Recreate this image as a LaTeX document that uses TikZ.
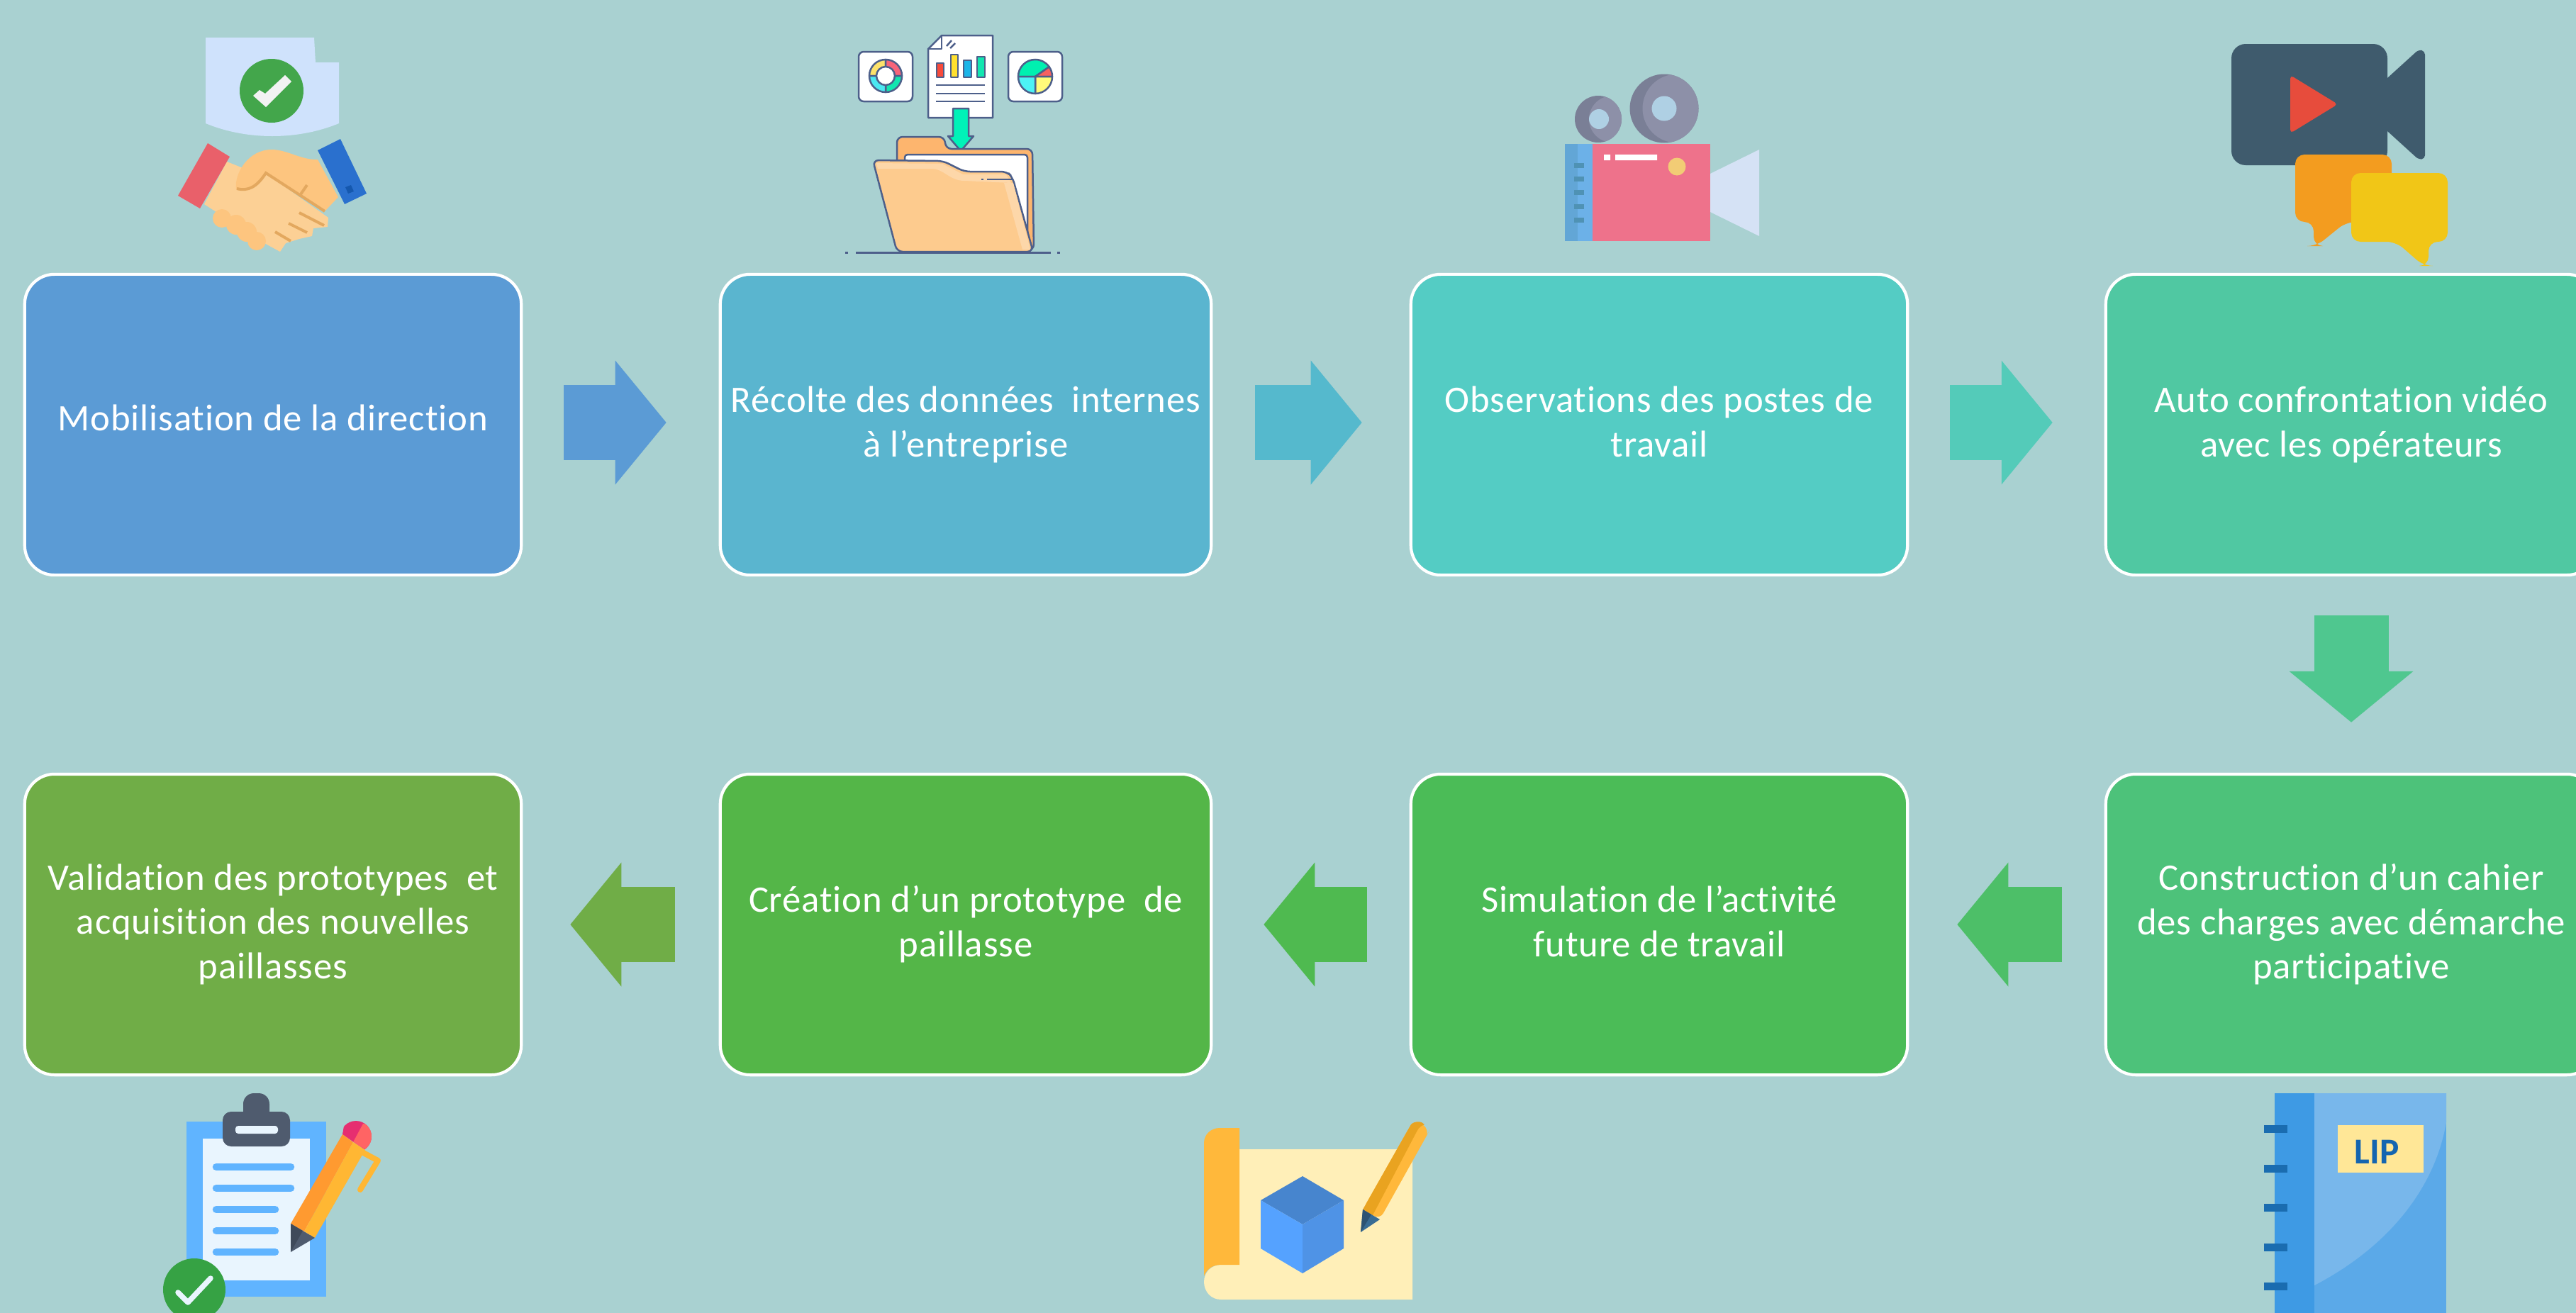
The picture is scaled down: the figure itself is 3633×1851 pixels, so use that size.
\documentclass[tikz,border=0pt]{standalone}
\usepackage{fontspec}
\setmainfont[Ligatures=NoCommon]{Carlito}
\newfontfamily\stepfont[Ligatures=NoCommon,LetterSpace=1.6]{Carlito}
\usepackage{tikz}
\usetikzlibrary{arrows.meta}
\definecolor{bgcol}{HTML}{A9D1D1}
\definecolor{stepa}{HTML}{5B9BD5}
\definecolor{stepb}{HTML}{5AB5CF}
\definecolor{stepc}{HTML}{54CCC4}
\definecolor{stepd}{HTML}{50C8A2}
\definecolor{stepe}{HTML}{4DC27A}
\definecolor{stepf}{HTML}{4BBC57}
\definecolor{stepg}{HTML}{54B648}
\definecolor{steph}{HTML}{70AD47}
\definecolor{arrowb}{HTML}{55B9CD}
\definecolor{arrowc}{HTML}{54CBB9}
\definecolor{arrowd}{HTML}{4FC78F}
\definecolor{arrowe}{HTML}{4DBF68}
\definecolor{arrowf}{HTML}{4FBA50}
\definecolor{inkline}{HTML}{4D5F8A}
\definecolor{skinlight}{HTML}{FCD095}
\definecolor{skindark}{HTML}{FDC57F}
\definecolor{penorange}{HTML}{FFB733}
\definecolor{lipblue}{HTML}{1465B0}
\definecolor{lipyellow}{HTML}{FFE797}
\tikzset{
	hex/.code={\definecolor{hexcol}{HTML}{#1}\pgfkeysalso{color=hexcol}},
	fillhex/.code={\definecolor{fillcol}{HTML}{#1}\pgfkeysalso{fill=fillcol}},
	rowone/.style={transform canvas={yshift=0.03cm}}
}

\begin{document}
\begin{tikzpicture}[x=0.01cm,y=-0.01cm]
	\useasboundingbox (0,0) rectangle (3633,1851);
	\clip (-10,-10) rectangle (3643,1861);
	\fill[bgcol] (-10,-10) rectangle (3643,1861);
	\begin{scope}[every node/.style={draw=white,line width=1.2pt,outer sep=0pt,rounded corners=0.42cm,text=white,align=center,minimum width=7cm,minimum height=4.24cm,font=\stepfont\fontsize{15}{17.8}\selectfont,execute at begin node=\vphantom{Ég},execute at end node=\vphantom{g}}]
		\node[fill=stepa] (mobil) at (385,599) {\raisebox{0.1cm}{Mobilisation de la direction}};
		\node[fill=stepb,minimum width=6.92cm] (recolte) at (1362,599) {Récolte des données~ internes\\à l’entreprise};
		\node[fill=stepc] (observ) at (2340,599) {Observations des postes de\\travail};
		\node[fill=stepd,minimum width=6.92cm] (confront) at (3316,599) {Auto confrontation vidéo\\avec les opérateurs};
		\node[fill=stepe,minimum width=6.92cm] (cahier) at (3316,1304) {Construction d’un cahier\\des charges avec démarche\\participative};
		\node[fill=stepf] (simul) at (2340,1304) {Simulation de l’activité\\future de travail};
		\node[fill=stepg,minimum width=6.92cm] (proto) at (1362,1304) {Création d’un prototype~ de\\paillasse};
		\node[fill=steph] (valid) at (385,1304) {Validation des prototypes~ et\\acquisition des nouvelles\\paillasses};
	\end{scope}
	\begin{scope}[>={Triangle[length=0.72cm,width=1.71cm]},
			every edge/.style={draw,line width=1.05cm}]
		\path [->] (mobil) edge[draw=stepa,rowone,shorten <=0.6cm,shorten >=0.76cm] (recolte);
		\path [->] (recolte) edge[draw=arrowb,rowone,shorten <=0.62cm,shorten >=0.69cm] (observ);
		\path [->] (observ) edge[draw=arrowc,rowone,shorten <=0.6cm,shorten >=0.75cm] (confront);
		\path [->] (confront) edge[draw=arrowd,shorten <=0.57cm,shorten >=0.73cm] (cahier);
		\path [->] (cahier) edge[draw=arrowe,shorten <=0.62cm,shorten >=0.7cm] (simul);
		\path [->] (simul) edge[draw=arrowf,shorten <=0.62cm,shorten >=0.74cm] (proto);
		\path [->] (proto) edge[draw=steph,shorten <=0.64cm,shorten >=0.69cm] (valid);
	\end{scope}
	\begin{scope}
		\fill[hex=CFE2FC] (290,53) -- (443,53) -- (445,88) -- (478,88) -- (478,174) .. controls (420,198) and (348,198) .. (290,174) -- cycle;
		\fill[hex=43A64B] (383,128) circle (45);
		\fill[hex=F2F2F2] (357,135) -- (375,151) -- (411,115) -- (402,106) -- (374,132) -- (366,127) -- cycle;
		\fill[skinlight] (320,228) -- (345,238) -- (373,243) -- (463,307) -- (462,320) -- (442,322) -- (440,333) -- (422,337) -- (403,343) -- (395,355) -- (373,343) -- (288,288) -- cycle;
		\fill[skindark] (313,308) circle (13) (333,317) circle (14) (348,327) circle (14) (362,340) circle (13);
		\fill[skindark] (448,225) -- (477,278) -- (458,298) -- (375,244) .. controls (362,268) and (350,270) .. (333,267) .. controls (330,245) and (350,211) .. (383,211) .. controls (405,211) and (425,226) .. (448,225) -- cycle;
		\fill[hex=E9606A] (293,202) -- (324,221) -- (282,294) -- (251,276) -- cycle;
		\fill[hex=2A70CE] (480,196) -- (517,273) -- (486,288) -- (448,212) -- cycle;
		\fill[hex=1558AE] (487,264) -- (495,261) -- (499,270) -- (491,273) -- cycle;
		\draw[hex=E3A85F,line width=0.04cm] (334,266) .. controls (350,270) and (362,264) .. (375,244) -- (458,298);
		\draw[hex=E3A85F,line width=0.04cm] (433,261) -- (422,277) (422,300) -- (457,318) (407,315) -- (433,328) (388,327) -- (410,340);
	\end{scope}
	\begin{scope}[every path/.style={draw=inkline,line width=0.025cm,line join=round}]
		\path[fill=white,rounded corners=0.07cm] (1211,73) rectangle (1287,143);
		\path[fill=white,rounded corners=0.07cm] (1422,73) rectangle (1498,143);
		\path[fillhex=FDE26B] (1249,107) -- ++(180:0.23cm) arc (180:90:0.23cm) -- cycle;
		\path[fillhex=F7647A] (1249,107) -- ++(90:0.23cm) arc (90:0:0.23cm) -- cycle;
		\path[fillhex=12E6B0] (1249,107) -- ++(0:0.23cm) arc (0:-90:0.23cm) -- cycle;
		\path[fillhex=4BE8F2] (1249,107) -- ++(-90:0.23cm) arc (-90:-180:0.23cm) -- cycle;
		\path[fill=white] (1249,107) circle (13);
		\path[fillhex=00F0B0] (1460,108) -- ++(180:0.24cm) arc (180:35:0.24cm) -- cycle;
		\path[fillhex=F76060] (1460,108) -- ++(35:0.24cm) arc (35:0:0.24cm) -- cycle;
		\path[fillhex=FFFA7A] (1460,108) -- ++(0:0.24cm) arc (0:-90:0.24cm) -- cycle;
		\path[fillhex=4CF2F5] (1460,108) -- ++(-90:0.24cm) arc (-90:-180:0.24cm) -- cycle;
		\path[fill=white] (1328,50) -- (1400,50) -- (1400,166) -- (1309,166) -- (1309,69) -- cycle;
		\path (1309,69) -- (1328,69) -- (1328,50);
		\path[fillhex=F84A3A] (1321,89) rectangle (1331,109);
		\path[fillhex=FFE02E] (1341,77) rectangle (1351,109);
		\path[fillhex=1CB5E8] (1359,85) rectangle (1370,109);
		\path[fillhex=12E6B0] (1378,80) rectangle (1389,109);
		\path (1320,120) -- (1389,120) (1320,132) -- (1389,132) (1320,143) -- (1389,143);
		\path (1335,65) -- (1342,57) (1340,68) -- (1347,61);
		\path[fillhex=00F2B8] (1344,153) -- (1366,153) -- (1366,192) -- (1373,192) -- (1355,213) -- (1337,192) -- (1344,192) -- cycle;
		\path[fillhex=FDB56E,rounded corners=0.08cm] (1265,240) -- (1265,193) -- (1332,193) -- (1334,210) -- (1456,210) -- (1458,353) -- (1300,353) -- cycle;
		\path[fill=white,rounded corners=0.04cm] (1276,240) -- (1276,218) -- (1449,218) -- (1449,347) -- (1300,347) -- cycle;
		\path[line width=0.03cm] (1207,356) -- (1482,356);
		\path[line width=0.03cm] (1192,356) -- (1196,356) (1491,356) -- (1495,356);
		\path[fillhex=FDCB8E,rounded corners=0.08cm] (1231,226) -- (1330,227) -- (1360,242) -- (1420,242) -- (1428,250) -- (1457,355) -- (1265,355) -- cycle;
		\path[draw=none,fillhex=FDD7A9] (1236,230) -- (1329,231) -- (1358,246) -- (1419,246) -- (1426,258) -- (1360,255) .. controls (1340,255) and (1330,238) .. (1315,238) -- (1238,238) -- cycle;
		\path[draw=none,fillhex=FDD7A9] (1416,258) -- (1429,258) -- (1453,352) -- (1442,352) -- cycle;
		\path (1392,253) -- (1428,253) (1384,253) -- (1387,253);
	\end{scope}
	\begin{scope}
		\fill[hex=6CB1E8] (2207,203) rectangle (2246,340);
		\fill[hex=62A6D6] (2207,203) rectangle (2225,340);
		\foreach \dashy in {230,249,268,288,307}
			\fill[hex=4F92B4] (2220,\dashy) rectangle (2234,\dashy+7);
		\fill[hex=EE728B] (2246,203) rectangle (2412,340);
		\fill[white] (2262,218) rectangle (2271,226) (2278,218) rectangle (2337,226);
		\fill[hex=F2CC75] (2365,235) circle (12.5);
		\fill[hex=D5E2F5] (2412,245) -- (2481,211) -- (2481,333) -- (2412,299) -- cycle;
		\fill[hex=7A7F96] (2254,168) circle (33) (2347,153) circle (48.5);
		\begin{scope}
			\clip (2254,168) circle (33);
			\fill[hex=8D90A8] (2274,168) circle (33);
		\end{scope}
		\begin{scope}
			\clip (2347,153) circle (48.5);
			\fill[hex=8D90A8] (2365,153) circle (48.5);
		\end{scope}
		\fill[hex=AFD0E4] (2255,168) circle (14) (2347,153) circle (17.5);
	\end{scope}
	\begin{scope}
		\fill[hex=3F5B6D,rounded corners=0.2cm] (3147,62) rectangle (3367,233);
		\fill[hex=3F5B6D,rounded corners=0.05cm] (3360,117) -- (3367,110) -- (3411,70) -- (3420,72) -- (3420,224) -- (3411,225) -- (3367,185) -- (3360,178) -- cycle;
		\fill[hex=E74C3C,rounded corners=0.05cm] (3230,106) -- (3297,147) -- (3230,188) -- cycle;
		\fill[hex=F39C1F,rounded corners=0.13cm] (3237,218) -- (3373,218) -- (3373,313) -- (3309,313) -- (3267,347) -- (3263,347) -- (3263,313) -- (3237,313) -- cycle;
		\fill[hex=F1C617,rounded corners=0.13cm] (3316,244) -- (3452,244) -- (3452,341) -- (3425,341) -- (3425,375) -- (3418,375) -- (3379,341) -- (3316,341) -- cycle;
	\end{scope}
	\begin{scope}
		\fill[hex=60B4FF] (263,1582) rectangle (460,1829);
		\fill[hex=E9F5FE] (286,1606) rectangle (437,1806);
		\fill[hex=4F5B6E,rounded corners=0.12cm] (314,1617) rectangle (409,1568);
		\fill[hex=4F5B6E,rounded corners=0.15cm] (343,1590) rectangle (380,1542);
		\fill[hex=E9F5FE,rounded corners=0.04cm] (332,1588) rectangle (392,1599);
		\foreach \liney/\lineend in {1646/415,1676/415,1706/393,1736/393,1766/393}
			\draw[hex=60B4FF,line width=0.105cm,line cap=round] (305,\liney) -- (\lineend-5,\liney);
		\begin{scope}
			\clip (483,1600) -- (515,1622) -- (560,1570) -- (490,1560) -- cycle;
			\fill[hex=E62E70] (502,1603) circle (22);
			\clip (502,1603) circle (22);
			\fill[hex=FF6464] (498,1611) -- (512,1585) -- (540,1590) -- (530,1630) -- cycle;
		\end{scope}
		\draw[penorange,line width=0.08cm,line cap=round,line join=round] (505,1622) -- (533,1637) -- (508,1678);
		\fill[hex=FF9A30] (410,1726) -- (483,1600) -- (498,1611) -- (429,1737) -- cycle;
		\fill[penorange] (429,1737) -- (498,1611) -- (515,1622) -- (444,1746) -- cycle;
		\fill[hex=4F5B6E] (410,1726) -- (444,1746) -- (410,1766) -- cycle;
		\fill[hex=3F4A5A] (410,1726) -- (427,1736) -- (410,1766) -- cycle;
		\fill[hex=36A244] (274,1819) circle (44);
		\draw[hex=E9F5FE,line width=0.075cm,line cap=round,line join=round] (251,1823) -- (265,1837) -- (297,1803);
	\end{scope}
	\begin{scope}
		\fill[hex=FFEFB8] (1748,1621) -- (1992,1621) -- (1992,1833) -- (1722,1833) .. controls (1708,1833) and (1698,1822) .. (1698,1808) .. controls (1698,1795) and (1708,1784) .. (1722,1784) -- (1748,1784) -- cycle;
		\fill[hex=FFB83B] (1698,1800) -- (1698,1612) .. controls (1698,1600) and (1708,1591) .. (1720,1591) -- (1748,1591) -- (1748,1784) -- (1722,1784) .. controls (1710,1784) and (1702,1790) .. (1698,1800) -- cycle;
		\fill[hex=4785CE] (1837,1659) -- (1895,1693) -- (1837,1727) -- (1778,1693) -- cycle;
		\fill[hex=55A2FF] (1778,1693) -- (1837,1727) -- (1837,1796) -- (1778,1761) -- cycle;
		\fill[hex=4F93E6] (1837,1727) -- (1895,1693) -- (1895,1761) -- (1837,1796) -- cycle;
		\fill[hex=FFB83B,rounded corners=0.1cm] (1922,1706) -- (1990,1586) -- (2000,1581) -- (2016,1594) -- (2012,1602) -- (1946,1720) -- cycle;
		\fill[hex=E9A320] (1922,1706) -- (1990,1586) .. controls (1995,1581) and (2005,1581) .. (2009,1586) .. controls (2000,1590) and (2000,1593) .. (1997,1598) -- (1936,1714) -- cycle;
		\fill[hex=386C94] (1922,1706) -- (1946,1720) -- (1919,1738) -- cycle;
		\fill[hex=2C5373] (1922,1706) -- (1934,1713) -- (1919,1738) -- cycle;
	\end{scope}
	\begin{scope}
		\fill[hex=5BA9E8] (3264,1542) rectangle (3450,1861);
		\fill[hex=78B7EB] (3264,1542) -- (3450,1542) -- (3450,1583) .. controls (3435,1670) and (3375,1755) .. (3264,1813) -- cycle;
		\fill[hex=3E9AE4] (3208,1542) rectangle (3264,1861);
		\foreach \ringy in {1592,1648,1703,1759,1814}
			\fill[hex=1A6CB0] (3193,\ringy-5.5) rectangle (3226,\ringy+5.5);
		\fill[lipyellow] (3297,1587) rectangle (3418,1654);
		\node[text=lipblue,inner sep=0pt,font=\fontsize{14.6}{17.8}\selectfont\bfseries] (lip) at (3352,1625) {LIP};
	\end{scope}
\end{tikzpicture}
\end{document}
